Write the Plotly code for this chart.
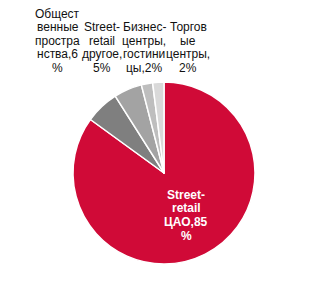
import plotly.graph_objects as go

W, H = 325, 303

categories = ["Street-retail ЦАО", "Общественные пространства", "Street-retail другое",
              "Бизнес-центры, гостиницы", "Торговые центры"]
values = [85, 6, 5, 2, 2]
colors = ["#D00A37", "#7F7F7F", "#A3A3A3", "#BEBEBE", "#D9D9D9"]

# wrapped label lines as shown in the chart
label_lines = [
    ["Street-", "retail", "ЦАО,85", "%"],
    ["Общест", "венные", "простра", "нства,6", "%"],
    ["Street-", "retail", "другое,", "5%"],
    ["Бизнес-", "центры,", "гостини", "цы,2%"],
    ["Торгов", "ые", "центры,", "2%"],
]

fig = go.Figure(go.Pie(
    labels=categories, values=values, sort=False, direction="clockwise", rotation=0,
    marker=dict(colors=colors, line=dict(color="white", width=1.5)),
    textinfo="none", hoverinfo="label+percent", showlegend=False,
    domain=dict(x=[(164 - 91) / W, (164 + 91) / W], y=[(130 - 91) / H, (130 + 91) / H]),
))

ann = []
# outside labels (top row), bottom-aligned
col_x = [58, 101.5, 144, 188]
line_h = 13.6
bottom_y = 68
for i, lines in enumerate(label_lines[1:]):
    n = len(lines)
    for j, t in enumerate(lines):
        py = bottom_y - (n - 1 - j) * line_h
        ann.append(dict(text=t, x=col_x[i] / W, y=1 - py / H, xref="paper", yref="paper",
                        xanchor="center", yanchor="middle", showarrow=False,
                        font=dict(family="Liberation Sans, Arial", size=12, color="#111111")))
# inside label of the big slice
for j, t in enumerate(label_lines[0]):
    py = 195 + j * 13.5
    ann.append(dict(text="<b>" + t + "</b>", x=186 / W, y=1 - py / H, xref="paper", yref="paper",
                    xanchor="center", yanchor="middle", showarrow=False,
                    font=dict(family="Liberation Sans, Arial", size=12, color="white")))

fig.update_layout(width=W, height=H, margin=dict(l=0, r=0, t=0, b=0),
                  paper_bgcolor="white", plot_bgcolor="white", annotations=ann)
fig.write_html("out.html")
